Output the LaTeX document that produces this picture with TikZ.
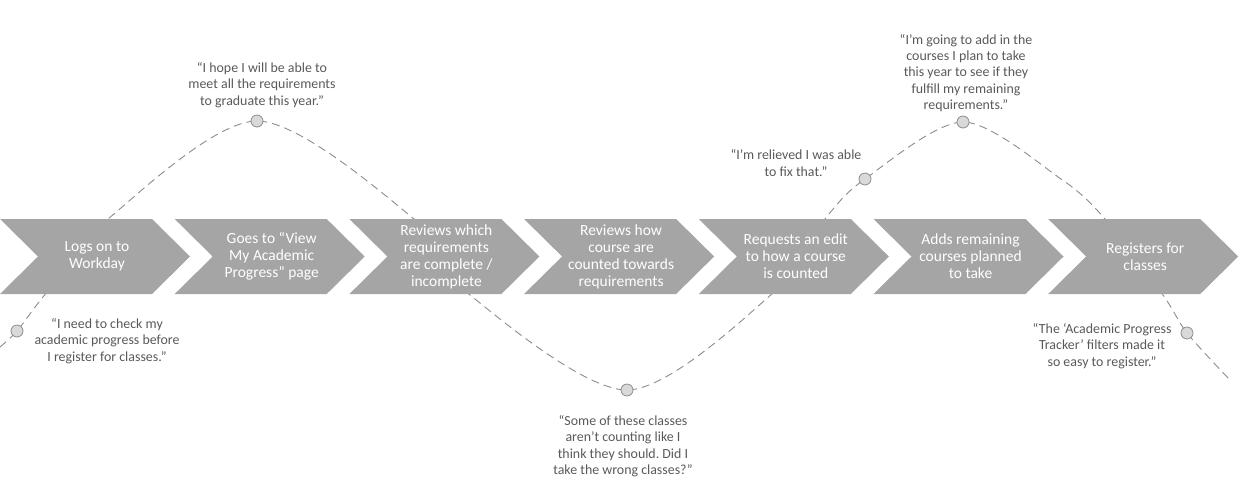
\documentclass[tikz,border=0pt]{standalone}
\usepackage{fontspec}
\setmainfont{Carlito}
\usepackage{tikz}
\frenchspacing
\definecolor{stagegray}{HTML}{A5A5A5}
\definecolor{quotegray}{HTML}{595959}
\definecolor{wavegray}{HTML}{8C8C8C}
\definecolor{dotgray}{HTML}{D9D9D9}
\tikzset{stage box/.style={fill=stagegray},
     stage text/.style={text=white, align=center,
           font=\fontsize{15.5}{17}\selectfont},
     quote/.style={text=quotegray, align=center,
           font=\fontsize{13.9}{16.4}\selectfont},
     wave/.style={draw=wavegray, line width=0.9pt,
           dash pattern=on 8pt off 5pt},
     dot/.style={circle, draw=wavegray, fill=dotgray, line width=0.8pt,
           minimum size=12pt, inner sep=0pt}
     }
\def\Stage#1#2{%
 \pgfmathsetmacro\xo{(#1-1)*174.7}
 \fill[stage box] (\xo,219) -- ++(152,0) -- ++(38,37.5) -- ++(-38,37.5)
     -- ++(-152,0) -- ++(38,-37.5) -- cycle;
 \node[stage text] (stage#1) at (\xo+97,256.5) {#2};
}
\def\Moment#1#2#3{%
 \node[dot] at (#1) {};
 \node[quote] (#1 quote) at (#2) {#3};
}
\begin{document}
\begin{tikzpicture}[x=1pt, y=-1pt]
\useasboundingbox (0,0) rectangle (1249,488);
\coordinate (m1) at (17,331);
\coordinate (m2) at (257,121);
\coordinate (m3) at (627,390);
\coordinate (m4) at (865,179);
\coordinate (m5) at (963,122);
\coordinate (m6) at (1187,333);
\draw[wave] plot[smooth] coordinates {(0,347) (m1) (43,297) (108,219) (m2)
  (414,219) (470,295) (m3) (773,293) (825,219) (m4) (m5) (1061,179)
  (1105,219) (1163,295) (m6) (1230,380)};
\Stage{1}{Logs on to\\Workday}
\Stage{2}{Goes to “View\\My Academic\\Progress” page}
\Stage{3}{Reviews which\\requirements\\are complete /\\incomplete}
\Stage{4}{Reviews how\\course are\\counted towards\\requirements}
\Stage{5}{Requests an edit\\to how a course\\is counted}
\Stage{6}{Adds remaining\\courses planned\\to take}
\Stage{7}{Registers for\\classes}
\Moment{m1}{107,341}{“I need to check my\\academic progress before\\I register for classes.”}
\Moment{m2}{262,85}{“I hope I will be able to\\meet all the requirements\\to graduate this year.”}
\Moment{m3}{623,446}{“Some of these classes\\aren’t counting like I\\think they should. Did I\\take the wrong classes?”}
\Moment{m4}{796,163}{“I’m relieved I was able\\to fix that.”}
\Moment{m5}{966,73}{“I’m going to add in the\\courses I plan to take\\this year to see if they\\fulfill my remaining\\requirements.”}
\Moment{m6}{1102,346}{“The ‘Academic Progress\\Tracker’ filters made it\\so easy to register.”}
\end{tikzpicture}
\end{document}
